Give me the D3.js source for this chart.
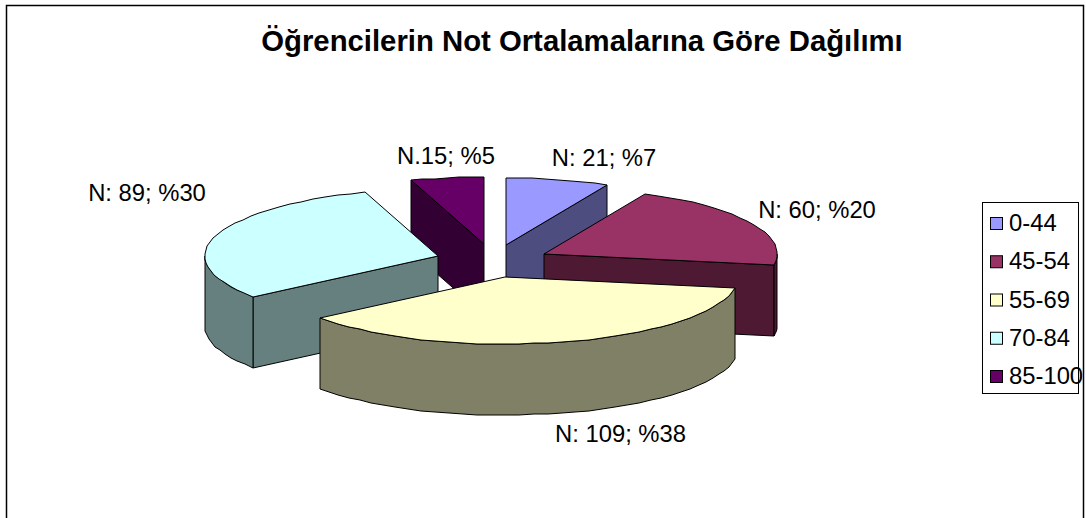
<!DOCTYPE html>
<html>
<head>
<meta charset="utf-8">
<script src="https://d3js.org/d3.v7.min.js"></script>
<style>
  html, body { margin: 0; padding: 0; background: #fff; overflow: hidden; }
  text { font-family: "Liberation Sans", Arial, sans-serif; fill: #000; }
</style>
</head>
<body>
<div id="chart"></div>
<script>
var categories = ['0-44', '45-54', '55-69', '70-84', '85-100'];
var counts = [21, 60, 109, 89, 15];
var sliceLabels = ['N: 21; %7', 'N: 60; %20', 'N: 109; %38', 'N: 89; %30', 'N.15; %5'];
var titleText = 'Öğrencilerin Not Ortalamalarına Göre Dağılımı';

var topColors = ['#9999ff', '#993366', '#ffffcc', '#ccffff', '#660066'];
var sideColors = ['#4d4d80', '#4d1933', '#808066', '#668080', '#330033'];

// where each exploded slice has its tip
var tipX = [506, 544, 505, 438, 484];
var tipY = [245, 254, 277, 256, 244];
var labelX = [604, 817, 620.5, 147, 446];
var labelY = [166, 218, 441.5, 201, 164];

var radiusX = 233, radiusY = 67, depth = 71;

var svg = d3.select('#chart').append('svg')
    .attr('width', 1086)
    .attr('height', 518);

// chart frame, bottom edge is cut off by the picture
svg.append('rect')
    .attr('x', 6.5).attr('y', 5.5)
    .attr('width', 1077).attr('height', 530)
    .attr('fill', '#fff')
    .attr('stroke', '#000')
    .attr('stroke-width', 1.5);

svg.append('text')
    .attr('x', 582).attr('y', 51)
    .attr('text-anchor', 'middle')
    .style('font-size', '29.3px')
    .style('font-weight', 'bold')
    .text(titleText);

var pie = d3.pie().sort(null).value(d => d);
var slices = pie(counts).map(function(s, i) {
  return {start: s.startAngle, end: s.endAngle, i: i};
});

// unit circle to the tilted ellipse
var ex = d3.scaleLinear().domain([-1, 1]).range([-radiusX, radiusX]);
var ey = d3.scaleLinear().domain([-1, 1]).range([-radiusY, radiusY]);

var line = d3.line();

// coarse on purpose, the original rim is a rough polygon
function rim(s, from, to, dy) {
  var n = Math.max(2, Math.ceil((to - from) * 16));
  return d3.range(n + 1).map(function(k) {
    var a = from + (to - from) * k / n;
    return [Math.round(tipX[s.i] + ex(Math.sin(a))), Math.round(tipY[s.i] + ey(-Math.cos(a)) + dy)];
  });
}

function drawFace(points, fill) {
  svg.append('path')
    .attr('d', line(points) + 'Z')
    .attr('fill', fill)
    .attr('stroke', '#000')
    .attr('stroke-width', 1)
    .attr('stroke-linejoin', 'round');
}

function radialWall(s, a) {
  var t = [tipX[s.i], tipY[s.i]];
  var p = rim(s, a, a, 0)[0];
  return [t, p, [p[0], p[1] + depth], [t[0], t[1] + depth]];
}

// outer wall only shows on the front half of the ellipse
function outerWall(s) {
  var from = Math.max(s.start, Math.PI / 2);
  var to = Math.min(s.end, 3 * Math.PI / 2);
  if (to <= from) return null;
  return rim(s, from, to, 0).concat(rim(s, from, to, depth).reverse());
}

// back to front
[4, 0, 1, 3, 2].forEach(function(i) {
  var s = slices[i];
  if (s.start > Math.PI) {
    drawFace(radialWall(s, s.start), sideColors[i]);
  }
  if (s.end < Math.PI) {
    drawFace(radialWall(s, s.end), sideColors[i]);
  }
  var wall = outerWall(s);
  if (wall) drawFace(wall, sideColors[i]);
  var top = [[tipX[i], tipY[i]]].concat(rim(s, s.start, s.end, 0));
  drawFace(top, topColors[i]);
});

svg.selectAll('.slice-label')
    .data(sliceLabels)
    .join('text')
    .attr('class', 'slice-label')
    .attr('x', (d, i) => labelX[i])
    .attr('y', (d, i) => labelY[i])
    .attr('text-anchor', 'middle')
    .style('font-size', '23.8px')
    .text(d => d);

// legend
var legendY = d3.scalePoint().domain(categories).range([223.5, 376.5]);

svg.append('rect')
    .attr('x', 982.5).attr('y', 202.5)
    .attr('width', 96).attr('height', 191)
    .attr('fill', '#fff')
    .attr('stroke', '#000');

var items = svg.selectAll('.legend-item')
    .data(categories)
    .join('g')
    .attr('class', 'legend-item')
    .attr('transform', d => 'translate(0,' + legendY(d) + ')');

items.append('rect')
    .attr('x', 990.5).attr('y', -6)
    .attr('width', 12).attr('height', 12)
    .attr('fill', (d, i) => topColors[i])
    .attr('stroke', '#000');

items.append('text')
    .attr('x', 1009).attr('y', 7.5)
    .style('font-size', '23.8px')
    .text(d => d);
</script>
</body>
</html>
